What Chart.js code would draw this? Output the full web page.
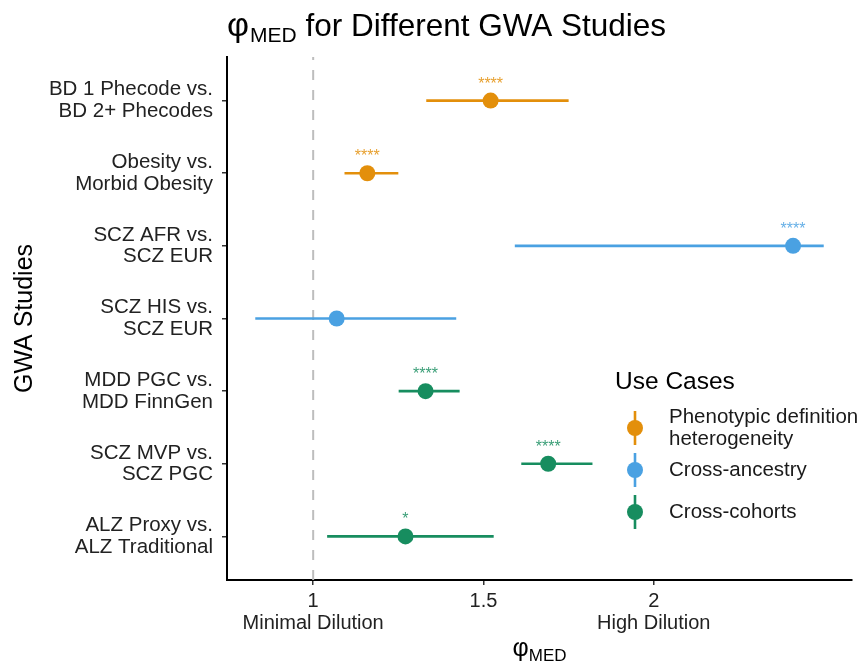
<!DOCTYPE html>
<html>
<head>
<meta charset="utf-8">
<script src="https://cdn.jsdelivr.net/npm/chart.js@4"></script>
<style>
html,body{margin:0;padding:0;background:#fff;}
#wrap{width:867px;height:666px;position:relative;}
</style>
</head>
<body>
<div id="wrap"><canvas id="c" width="867" height="666"></canvas></div>
<script>
// ---- data ----
const studies = [
  ["BD 1 Phecode vs.", "BD 2+ Phecodes"],
  ["Obesity vs.", "Morbid Obesity"],
  ["SCZ AFR vs.", "SCZ EUR"],
  ["SCZ HIS vs.", "SCZ EUR"],
  ["MDD PGC vs.", "MDD FinnGen"],
  ["SCZ MVP vs.", "SCZ PGC"],
  ["ALZ Proxy vs.", "ALZ Traditional"]
];
const phiMed   = [1.521, 1.159, 2.409, 1.069, 1.330, 1.690, 1.271];
const ciLower  = [1.332, 1.092, 1.592, 0.830, 1.251, 1.611, 1.041];
const ciUpper  = [1.750, 1.250, 2.499, 1.420, 1.430, 1.820, 1.530];
const useCase  = [0, 0, 1, 1, 2, 2, 2];
const signif   = ["****", "****", "****", "", "****", "****", "*"];
const caseNames = [["Phenotypic definition", "heterogeneity"], ["Cross-ancestry"], ["Cross-cohorts"]];
const caseColors = ["#E38F0B", "#4AA1E2", "#178D5F"];
const xTickValues = [1, 1.5, 2];
const xTickLabels = [["1", "Minimal Dilution"], ["1.5"], ["2", "High Dilution"]];

const FONT = "'Liberation Sans', Arial, sans-serif";

// ---- datasets ----
const datasets = [];
studies.forEach((s, i) => {
  datasets.push({
    type: 'line',
    data: [{x: ciLower[i], y: i}, {x: ciUpper[i], y: i}],
    borderColor: caseColors[useCase[i]],
    borderWidth: 2.6,
    pointRadius: 0,
    fill: false,
    order: 2
  });
});
caseNames.forEach((n, k) => {
  const pts = [];
  phiMed.forEach((v, i) => { if (useCase[i] === k) pts.push({x: v, y: i}); });
  datasets.push({
    type: 'scatter',
    label: n.join(' '),
    data: pts,
    backgroundColor: caseColors[k],
    borderColor: caseColors[k],
    pointRadius: 8,
    borderWidth: 0,
    order: 1
  });
});

const refLine = {
  id: 'refLine',
  beforeDatasetsDraw(chart) {
    const {ctx, chartArea, scales} = chart;
    const x = scales.x.getPixelForValue(1);
    ctx.save();
    ctx.strokeStyle = '#BDBDBD';
    ctx.lineWidth = 2;
    ctx.setLineDash([10, 10]);
    ctx.beginPath();
    ctx.moveTo(x, chartArea.bottom);
    ctx.lineTo(x, chartArea.top);
    ctx.stroke();
    ctx.restore();
  }
};

const annot = {
  id: 'annot',
  afterDraw(chart) {
    const {ctx, scales} = chart;
    ctx.save();
    // significance stars
    ctx.textAlign = 'center';
    ctx.textBaseline = 'alphabetic';
    ctx.font = '16px ' + FONT;
    phiMed.forEach((v, i) => {
      if (!signif[i]) return;
      ctx.fillStyle = caseColors[useCase[i]];
      ctx.globalAlpha = 0.85;
      ctx.fillText(signif[i], scales.x.getPixelForValue(v), scales.y.getPixelForValue(i) - 12);
    });
    ctx.globalAlpha = 1;
    // title
    ctx.fillStyle = '#000';
    ctx.textAlign = 'left';
    ctx.textBaseline = 'alphabetic';
    const tx = 227, ty = 36;
    ctx.font = '34px ' + FONT;
    ctx.fillText('φ', tx, ty);
    let w = ctx.measureText('φ').width;
    ctx.font = '21px ' + FONT;
    ctx.fillText('MED', tx + w + 1, ty + 6);
    w += ctx.measureText('MED').width + 1;
    ctx.font = '31.5px ' + FONT;
    const gap = ctx.measureText(' ').width;
    ctx.fillText('for Different GWA Studies', Math.max(tx + w + gap, 305), ty);
    // x axis title
    ctx.font = '25px ' + FONT;
    const pw = ctx.measureText('φ').width;
    ctx.font = '17px ' + FONT;
    const mw = ctx.measureText('MED').width;
    const xx = (chart.chartArea.left + chart.chartArea.right) / 2 - (pw + mw) / 2;
    ctx.font = '25px ' + FONT;
    ctx.fillText('φ', xx, 656);
    ctx.font = '17px ' + FONT;
    ctx.fillText('MED', xx + pw, 661);
    // legend
    ctx.font = '24.5px ' + FONT;
    ctx.fillStyle = '#000';
    ctx.textBaseline = 'middle';
    ctx.fillText('Use Cases', 615, 382);
    const keyX = 635, textX = 669;
    const keyY = [428, 470, 512];
    caseNames.forEach((n, k) => {
      const cy = keyY[k];
      ctx.strokeStyle = caseColors[k];
      ctx.lineWidth = 2.6;
      ctx.beginPath();
      ctx.moveTo(keyX, cy - 17);
      ctx.lineTo(keyX, cy + 17);
      ctx.stroke();
      ctx.fillStyle = caseColors[k];
      ctx.beginPath();
      ctx.arc(keyX, cy, 8, 0, Math.PI * 2);
      ctx.fill();
      ctx.fillStyle = '#1a1a1a';
      ctx.font = '20.5px ' + FONT;
      const lh = 22;
      const y0 = cy - (n.length - 1) * lh / 2;
      n.forEach((line, j) => ctx.fillText(line, textX, y0 + j * lh));
    });
    ctx.restore();
  }
};

new Chart(document.getElementById('c'), {
  data: { datasets },
  options: {
    responsive: false,
    animation: false,
    layout: { padding: { top: 57, right: 15, left: 0, bottom: 0 } },
    plugins: { legend: { display: false }, tooltip: { enabled: false }, title: { display: false } },
    scales: {
      x: {
        type: 'linear',
        min: 0.747, max: 2.582,
        afterBuildTicks(scale) { scale.ticks = xTickValues.map(v => ({value: v})); },
        afterFit(scale) { scale.height = 86; },
        ticks: {
          color: '#222',
          font: { family: FONT, size: 20, lineHeight: 1.08 },
          padding: 6,
          maxRotation: 0,
          autoSkip: false,
          callback(v) { const i = xTickValues.indexOf(v); return i >= 0 ? xTickLabels[i] : ''; }
        },
        grid: { drawOnChartArea: false, color: '#333', tickLength: 5, lineWidth: 1.5 },
        border: { color: '#000', width: 2 }
      },
      y: {
        type: 'linear',
        min: -0.6, max: 6.6,
        reverse: true,
        afterBuildTicks(scale) { scale.ticks = studies.map((s, i) => ({value: i})); },
        afterFit(scale) { scale.width = 227; },
        ticks: {
          color: '#222',
          font: { family: FONT, size: 20.5, lineHeight: 1.05 },
          padding: 9,
          autoSkip: false,
          callback(v) { return studies[v] || ''; }
        },
        title: { display: true, text: 'GWA Studies', color: '#000', font: { family: FONT, size: 25 }, padding: { top: 10, bottom: 4 } },
        grid: { drawOnChartArea: false, color: '#333', tickLength: 5, lineWidth: 1.5 },
        border: { color: '#000', width: 2 }
      }
    }
  },
  plugins: [refLine, annot]
});
</script>
</body>
</html>
